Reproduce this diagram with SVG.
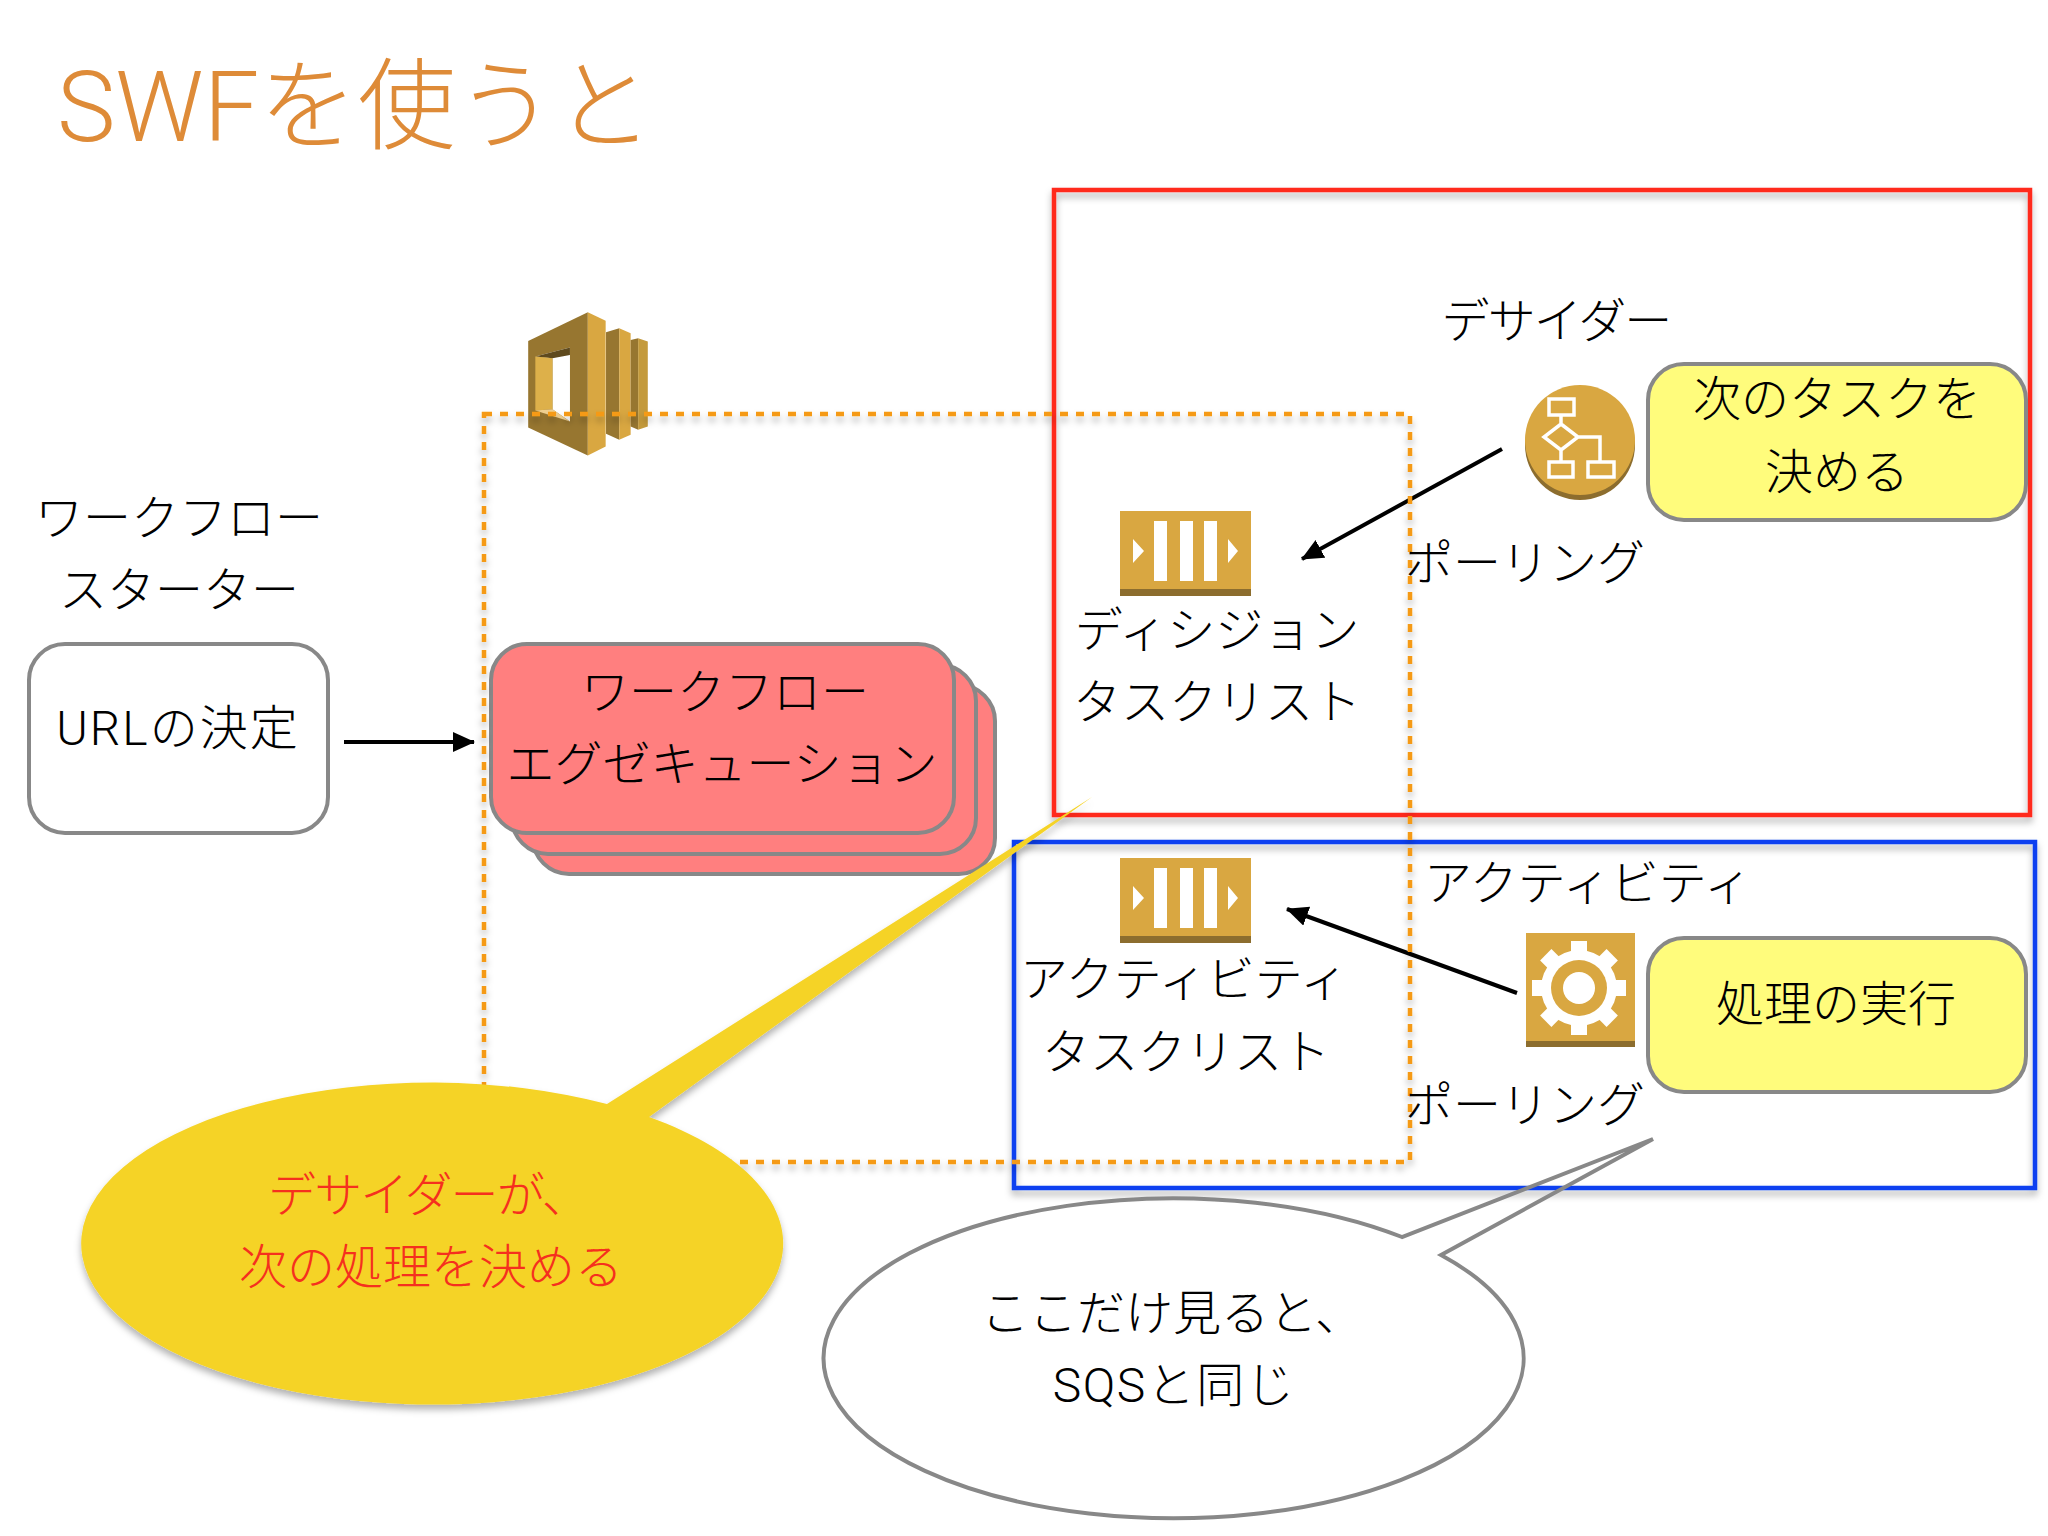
<svg xmlns="http://www.w3.org/2000/svg" xmlns:xlink="http://www.w3.org/1999/xlink" width="2048" height="1536" viewBox="0 0 2048 1536">
<defs>
<style>
text{font-family:"Roboto","Noto Sans CJK JP",sans-serif;font-weight:300;font-size:48px;fill:#000;text-anchor:middle}
.box{stroke:#888;stroke-width:4}
.frame{fill:none;stroke-width:4.5;filter:url(#sh)}
.gold{fill:#D9A741}
.base{fill:#8C6D2E}
.w{fill:#fff}
.flow{fill:none;stroke:#fff;stroke-width:3.5}
.conn{fill:none;stroke:#000;stroke-width:4;marker-end:url(#ah)}
</style>
<filter id="sh" x="-5%" y="-5%" width="110%" height="110%"><feDropShadow dx="0" dy="5" stdDeviation="3.5" flood-color="#000" flood-opacity="0.3"/></filter>
<marker id="ah" markerUnits="userSpaceOnUse" markerWidth="24" markerHeight="22" refX="21" refY="10" orient="auto"><path d="M0 0L22 10L0 20z" fill="#000"/></marker>
<g id="queue">
<rect class="gold" x="1120" y="858" width="131" height="78"/>
<rect class="base" x="1120" y="936" width="131" height="7"/>
<rect class="w" x="1154" y="868" width="13" height="60"/>
<rect class="w" x="1180" y="868" width="13" height="60"/>
<rect class="w" x="1204" y="868" width="13" height="60"/>
<path class="w" d="M1133 886L1144 898L1133 910zM1228 886L1238 898L1228 910z"/>
</g>
<rect id="tooth" class="w" x="-8" y="-47" width="16" height="94"/>
</defs>
<rect width="2048" height="1536" fill="#fff"/>
<g id="title"><text x="355" y="141" style="font-size:98.5px;fill:#DE8B38">SWFを使うと</text></g>

<g id="decider-frame"><rect class="frame" x="1054" y="190" width="976" height="625" stroke="#FF2A1A"/></g>
<g id="activity-frame"><rect class="frame" x="1014" y="842" width="1021" height="346" stroke="#1040F0"/></g>

<g id="swf-icon" transform="translate(480 280) scale(0.357 0.333)">
<path d="M135 183L302 97V527L135 443z" fill="#977630"/>
<path d="M302 97L352 122V500L302 527z" fill="#D9A741"/>
<path d="M155 230L252 203V425L203 388L203 235z" fill="#fff"/>
<path d="M155 230L252 203V225L203 235z" fill="#5F4A1E"/>
<path d="M155 230L203 235V388L155 392z" fill="#DDB04A"/>
<path d="M155 392L203 388L252 425z" fill="#F0D090"/>
<path d="M353 157L390 145V480L353 462z" fill="#977630"/>
<path d="M390 145L422 160V465L390 480z" fill="#D9A741"/>
<path d="M422 180L443 175V450L422 440z" fill="#977630"/>
<path d="M443 175L470 185V440L443 450z" fill="#C49A3C"/>
</g>

<g id="starter-label"><text x="179" y="535">ワークフロー</text><text x="179" y="607">スターター</text></g>
<g id="starter"><rect class="box" x="29" y="644" width="299" height="189" rx="36" fill="#fff"/><text x="178" y="745" letter-spacing="2">URLの決定</text></g>

<g id="execution">
<rect class="box" x="533" y="685" width="462" height="189" rx="36" fill="#FF7F7F"/>
<rect class="box" x="512" y="665" width="464" height="189" rx="36" fill="#FF7F7F"/>
<rect class="box" x="491" y="644" width="463" height="189" rx="36" fill="#FF7F7F"/>
<text x="725" y="709">ワークフロー</text><text x="722" y="781">エグゼキューション</text>
</g>

<g id="decision-list"><use xlink:href="#queue" href="#queue" transform="translate(0 -347)"/><text x="1217" y="647">ディシジョン</text><text x="1217" y="719">タスクリスト</text></g>
<g id="activity-list"><use xlink:href="#queue" href="#queue"/><text x="1184" y="996">アクティビティ</text><text x="1186" y="1069">タスクリスト</text></g>

<g id="decider">
<text x="1556" y="338" letter-spacing="-1.8">デサイダー</text>
<circle cx="1580" cy="445" r="55" class="base"/><circle cx="1580" cy="440" r="55" class="gold"/>
<rect class="flow" x="1549" y="399" width="25" height="16"/>
<path class="flow" d="M1561 415V424M1561 424L1578 437L1561 450L1544 437zM1561 450V462M1578 437H1600V462"/>
<rect class="flow" x="1549" y="462" width="24" height="15"/>
<rect class="flow" x="1588" y="462" width="26" height="15"/>
</g>
<g id="decide-box"><rect class="box" x="1648" y="364" width="378" height="156" rx="36" fill="#FFFC7C"/><text x="1837" y="416">次のタスクを</text><text x="1837" y="489">決める</text></g>

<g id="activity-worker">
<text x="1588" y="900">アクティビティ</text>
<rect class="gold" x="1526" y="933" width="109" height="108"/><rect class="base" x="1526" y="1041" width="109" height="6"/>
<circle cx="1579" cy="988" r="38" class="w"/>
<use xlink:href="#tooth" href="#tooth" transform="translate(1579 988)"/>
<use xlink:href="#tooth" href="#tooth" transform="translate(1579 988) rotate(45)"/>
<use xlink:href="#tooth" href="#tooth" transform="translate(1579 988) rotate(90)"/>
<use xlink:href="#tooth" href="#tooth" transform="translate(1579 988) rotate(135)"/>
<circle cx="1579" cy="988" r="28" class="gold"/><circle cx="1579" cy="988" r="16" class="w"/>
</g>
<g id="exec-box"><rect class="box" x="1648" y="938" width="378" height="154" rx="36" fill="#FFFC7C"/><text x="1836" y="1021">処理の実行</text></g>

<g id="connectors">
<line class="conn" x1="344" y1="742" x2="474" y2="742"/>
<line class="conn" x1="1502" y1="449" x2="1302" y2="559"/>
<line class="conn" x1="1517" y1="993" x2="1287" y2="909"/>
</g>

<g id="workflow-frame"><rect class="frame" x="484" y="414" width="926" height="748" stroke="#F59A14" stroke-dasharray="8 8"/></g>

<g id="polling-labels"><text x="1525" y="580">ポーリング</text><text x="1525" y="1122">ポーリング</text></g>

<g id="decider-callout">
<path d="M607 1104A351 161 0 1 0 649 1117L1092 797z" fill="#F5D327" filter="url(#sh)"/>
<text x="428" y="1212" letter-spacing="-1.9" style="fill:#F5301E">デサイダーが、</text><text x="431" y="1284" style="fill:#F5301E">次の処理を決める</text>
</g>
<g id="sqs-callout">
<path d="M1402 1237A350 160 0 1 0 1441 1255L1653 1139z" fill="none" stroke="#888" stroke-width="4"/>
<text x="1172" y="1330">ここだけ見ると、</text><text x="1174" y="1402" letter-spacing="1.5">SQSと同じ</text>
</g>
</svg>
